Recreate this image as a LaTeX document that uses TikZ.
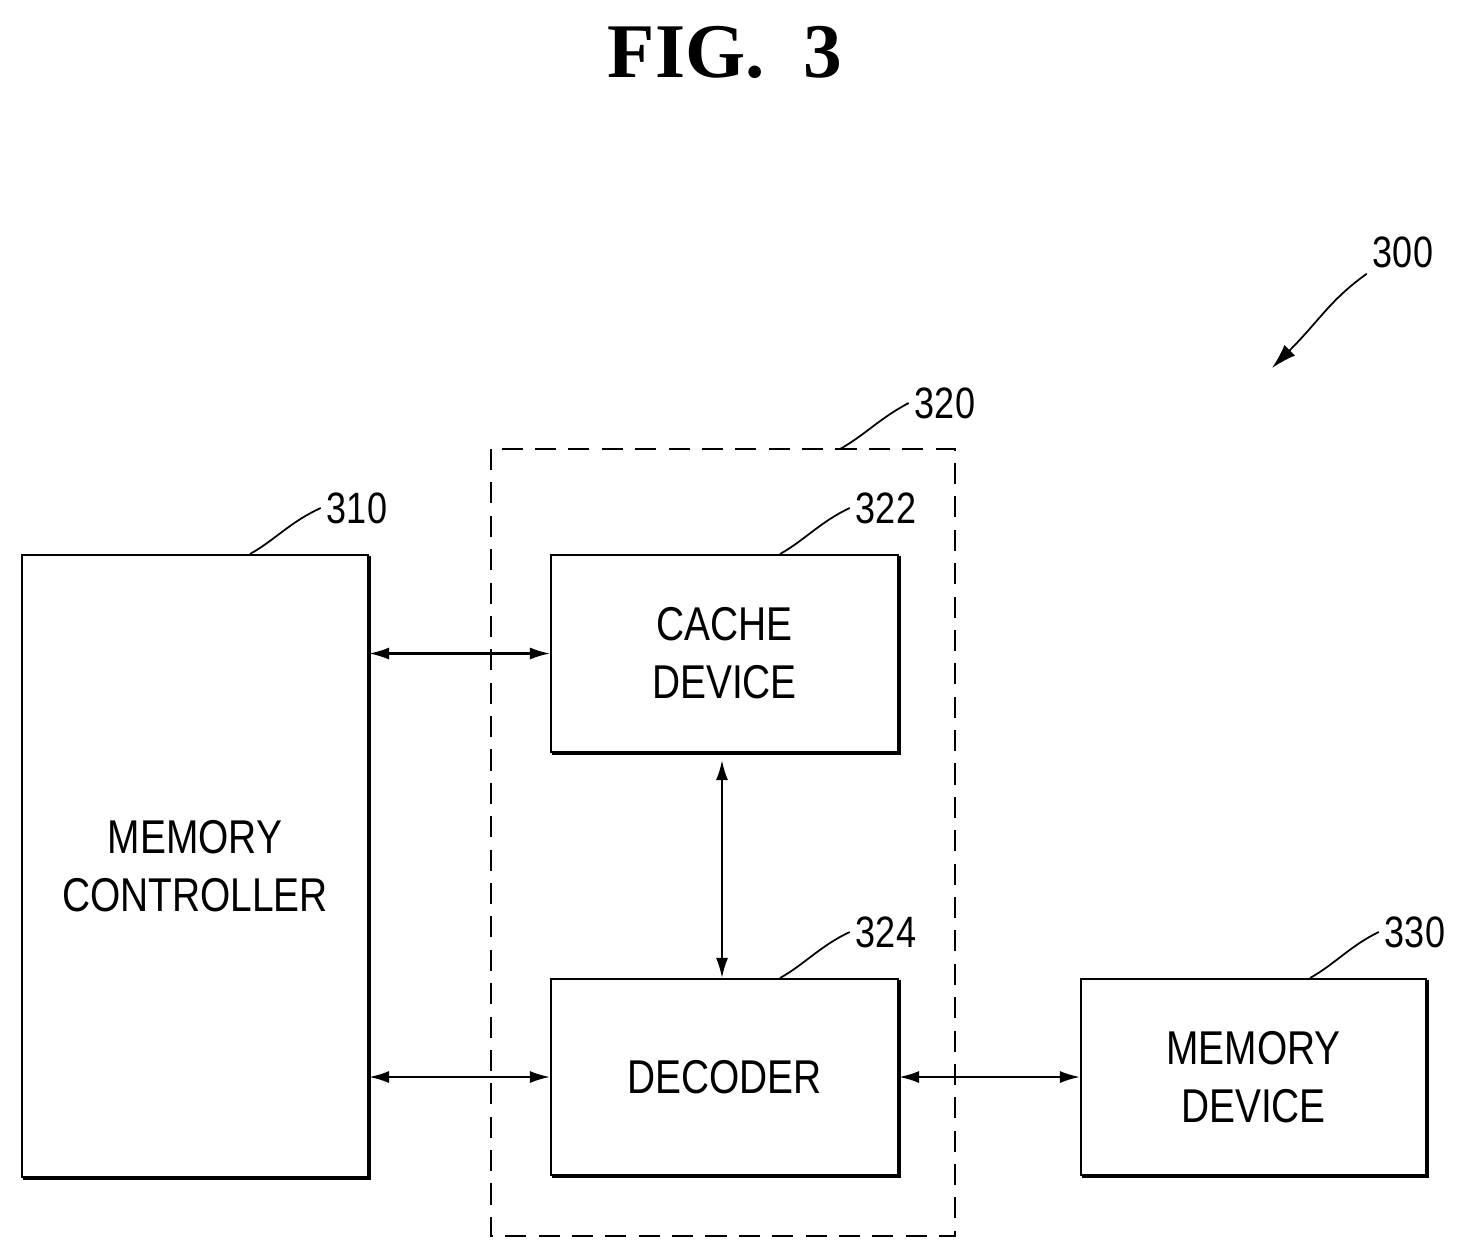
\documentclass[tikz,border=0pt]{standalone}
\usepackage{fontspec}
\setmainfont{Liberation Sans}[FakeStretch=0.82]
\newfontfamily\figfont{Liberation Serif}
\usetikzlibrary{positioning,arrows.meta}
\tikzset{
    block/.style={
        draw=black,
        line width=1.2pt,
        rectangle, % plain box
        align=center,
        inner sep=0pt,
        font=\fontsize{27}{33}\selectfont,
    },
    link/.style={line width=1.2pt, {Latex[length=4mm,width=2.4mm]}-{Latex[length=4mm,width=2.4mm]}},
    tag/.style={font=\fontsize{25}{30}\selectfont},
    lead/.style={line width=1pt},
}
\begin{document}
\begin{tikzpicture}[x=0.02cm,y=-0.02cm]
\useasboundingbox (0,0) rectangle (1471,1258);
\node[font=\figfont\bfseries\fontsize{44}{50}\selectfont] (title) at (725,52) {FIG.\ \ 3};

\draw[line width=1pt, dash pattern=on 12pt off 7pt] (491,449) rectangle (955,1236);

\node[block, minimum width=6.92cm, minimum height=12.44cm] (mc) at (195,866) {MEMORY\\CONTROLLER};
\node[block, minimum width=6.94cm, minimum height=3.94cm] (cache) at (724.5,653.5) {CACHE\\DEVICE};
\node[block, minimum width=6.94cm, minimum height=3.92cm] (dec) at (724.5,1077) {DECODER};
\node[block, minimum width=6.9cm, minimum height=3.92cm] (mem) at (1253.5,1077) {MEMORY\\DEVICE};

% heavy right and bottom edges
\foreach \n in {mc,cache,dec,mem}
  \draw[line width=2.6pt] ([yshift=-1pt]\n.north east) -- (\n.south east) -- ([xshift=1pt]\n.south west);

\draw[link] (mc.east |- cache.west) -- (cache.west);
\draw[link] (mc.east |- dec.west) -- (dec.west);
\draw[link] (dec.east) -- (mem.west);
\draw[link] ([yshift=-4pt]cache.south -| 722,0) -- (dec.north -| 722,0);

% reference numerals
\node[tag] (n310) at (357,508) {310};
\node[tag] (n320) at (945,403) {320};
\node[tag] (n322) at (886,508) {322};
\node[tag] (n324) at (886,932) {324};
\node[tag] (n330) at (1415,932) {330};
\node[tag] (n300) at (1403,252) {300};
\draw[lead] (250,554) .. controls (275,540) and (290,522) .. (n310.west);
\draw[lead] (840,449) .. controls (865,435) and (880,418) .. (n320.west);
\draw[lead] (780,554) .. controls (805,540) and (820,522) .. (n322.west);
\draw[lead] (780,978) .. controls (805,964) and (820,946) .. (n324.west);
\draw[lead] (1310,978) .. controls (1335,964) and (1350,946) .. (n330.west);
\draw[lead, -{Latex[length=5mm,width=3mm]}] (n300.south west) .. controls (1330,300) and (1320,320) .. (1272,368);
\end{tikzpicture}
\end{document}
